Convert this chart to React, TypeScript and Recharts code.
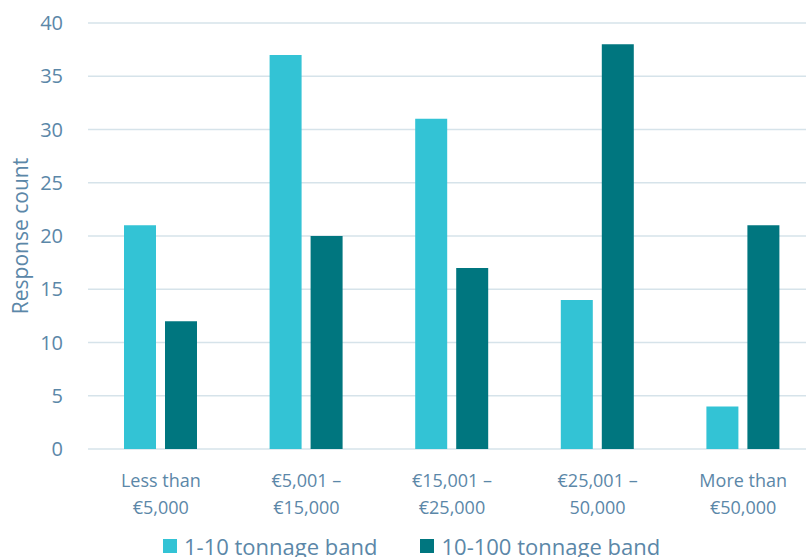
import React from 'react';
import { BarChart, Bar, XAxis, YAxis, CartesianGrid } from 'recharts';

const categories = [
  'Less than\n€5,000',
  '€5,001 –\n€15,000',
  '€15,001 –\n€25,000',
  '€25,001 –\n50,000',
  'More than\n€50,000',
];
const smallBand = [21, 37, 31, 14, 4];
const largeBand = [12, 20, 17, 38, 21];
const yTicks = [0, 5, 10, 15, 20, 25, 30, 35, 40];

const SERIES = [
  { key: 'small', name: '1-10 tonnage band', color: '#33C3D5' },
  { key: 'large', name: '10-100 tonnage band', color: '#00767F' },
];

const TEXT = '#5B87A8';
const FONT = '"Open Sans", sans-serif';

const data = categories.map((name, i) => ({
  name,
  small: smallBand[i],
  large: largeBand[i],
}));

function CategoryTick({ x, y, payload }: any) {
  const lines = String(payload.value).split('\n');
  return (
    <text x={x} y={y} textAnchor="middle" fill={TEXT} fontSize={18} fontFamily={FONT}>
      {lines.map((line, i) => (
        <tspan key={i} x={x} dy={i === 0 ? 30 : 27}>
          {line}
        </tspan>
      ))}
    </text>
  );
}

// legend sits under the axis labels, outside the svg
function ChartLegend() {
  return (
    <div
      style={{
        position: 'absolute',
        left: 163,
        top: 533,
        display: 'flex',
        gap: 43,
        fontFamily: FONT,
        lineHeight: '26px',
      }}
    >
      {SERIES.map((s) => (
        <div key={s.key} style={{ display: 'flex', alignItems: 'center', gap: 7 }}>
          <span style={{ width: 14, height: 14, background: s.color, display: 'inline-block' }} />
          <span style={{ color: TEXT, fontSize: 22, whiteSpace: 'nowrap' }}>{s.name}</span>
        </div>
      ))}
    </div>
  );
}

export default function App() {
  return (
    <div style={{ position: 'absolute', left: 0, top: 0, width: 806, height: 557, overflow: 'hidden', background: '#fff' }}>
      <BarChart
        width={816}
        height={557}
        data={data}
        margin={{ top: 23, right: 0, bottom: 0, left: 0 }}
        barGap={9}
        barSize={32}
      >
        <CartesianGrid vertical={false} stroke="#D6E3EA" strokeWidth={1.5} />
        <XAxis dataKey="name" axisLine={false} tickLine={false} tick={<CategoryTick />} interval={0} height={108} />
        <YAxis
          domain={[0, 40]}
          ticks={yTicks}
          width={88}
          axisLine={false}
          tickLine={false}
          tickSize={0}
          tickMargin={25}
          tick={{ fill: TEXT, fontSize: 20, fontFamily: FONT }}
          label={{
            value: 'Response count',
            angle: -90,
            position: 'insideLeft',
            offset: 21,
            fill: TEXT,
            fontSize: 21,
            fontFamily: FONT,
            style: { textAnchor: 'middle' },
          }}
        />
        {SERIES.map((s) => (
          <Bar key={s.key} dataKey={s.key} name={s.name} fill={s.color} isAnimationActive={false} />
        ))}
      </BarChart>
      <ChartLegend />
    </div>
  );
}
